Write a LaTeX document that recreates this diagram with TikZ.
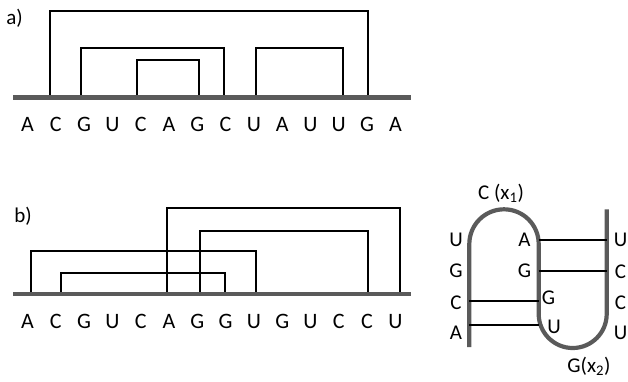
\documentclass[tikz,border=0pt]{standalone}
\usepackage{fontspec}
\setmainfont{Carlito}
\begin{document}
\begin{tikzpicture}[x=1pt,y=-1pt,
  base/.style={line width=4.2pt,draw=strand},
  pairarc/.style={line width=2pt,draw=black},
  seq/.style={font=\fontsize{22}{24}\selectfont,inner sep=0pt},
  lab/.style={font=\fontsize{21}{23}\selectfont,inner sep=0pt},
  rl/.style={font=\fontsize{21}{23}\selectfont,inner sep=0pt},
  strandline/.style={line width=4.2pt,draw=strand},
  bond/.style={line width=1.8pt,draw=black}]
\definecolor{strand}{HTML}{5A5A5A}
\useasboundingbox (0,0) rectangle (628,381);
% ---------- panel a ----------
\node[lab] (la) at (14.5,18) {a)};
\coordinate (aL) at (13,97.5);
\coordinate (aR) at (411,97.5);
\foreach \x/\n in {50/1,81/2,137/3,199/4,224/5,256/6,343/7,368/8}
  \coordinate (af\n) at (\x,97.5);
\draw[pairarc] (af1) -- ++(0,-86.5) -| (af8);
\draw[pairarc] (af2) -- ++(0,-49.5) -| (af5);
\draw[pairarc] (af3) -- ++(0,-37.5) -| (af4);
\draw[pairarc] (af6) -- ++(0,-49.5) -| (af7);
\draw[base] (aL) -- (aR);
\foreach \c [count=\i] in {A,C,G,U,C,A,G,C,U,A,U,U,G,A}
  \node[seq] (sa\i) at ({27.5+(\i-1)*28.3},124.8) {\c};
% ---------- panel b ----------
\node[lab] (lb) at (23,216) {b)};
\coordinate (bL) at (13,294);
\coordinate (bR) at (411,294);
\foreach \x/\n in {31/1,61/2,167/3,200/4,225/5,256/6,368/7,400/8}
  \coordinate (bf\n) at (\x,294);
\draw[pairarc] (bf3) -- ++(0,-86.5) -| (bf8);
\draw[pairarc] (bf4) -- ++(0,-63) -| (bf7);
\draw[pairarc] (bf1) -- ++(0,-43) -| (bf6);
\draw[pairarc] (bf2) -- ++(0,-21.5) -| (bf5);
\draw[base] (bL) -- (bR);
\foreach \c [count=\i] in {A,C,G,U,C,A,G,G,U,G,U,C,C,U}
  \node[seq] (sb\i) at ({27.5+(\i-1)*28.3},321.5) {\c};
% ---------- panel c ----------
\coordinate (s1) at (469.3,347);
\coordinate (s2) at (469.3,244);
\coordinate (s3) at (538.7,314);
\coordinate (s4) at (606.7,209.3);
\draw[strandline,line join=round] (s1) -- (s2) arc[start angle=180,end angle=0,radius=34.7pt]
  -- (s3) arc[start angle=180,end angle=360,radius=34pt] -- (s4);
\coordinate (p1l) at (538.7,240);   \coordinate (p1r) at (606.7,240);
\coordinate (p2l) at (538.7,270.7); \coordinate (p2r) at (606.7,270.7);
\coordinate (p3l) at (469.3,300.7); \coordinate (p3r) at (538.7,300.7);
\coordinate (p4l) at (469.3,325);   \coordinate (p4r) at (538.7,325);
\draw[bond] (p1l) -- (p1r);
\draw[bond] (p2l) -- (p2r);
\draw[bond] (p3l) -- (p3r);
\draw[bond] (p4l) -- (p4r);
\node[rl] (x1) at (501,193) {C (x\textsubscript{1})};
\node[rl] (x2) at (589,366) {G(x\textsubscript{2})};
\node[rl] (l1) at (456,239.5) {U};
\node[rl] (l2) at (456,271) {G};
\node[rl] (l3) at (456,302.5) {C};
\node[rl] (l4) at (456,332.5) {A};
\node[rl] (m1) at (524.5,240) {A};
\node[rl] (m2) at (524.5,271) {G};
\node[rl] (m3) at (548.5,298) {G};
\node[rl] (m4) at (554,326.5) {U};
\node[rl] (r1) at (620.5,240) {U};
\node[rl] (r2) at (620.5,271.5) {C};
\node[rl] (r3) at (620.5,302.5) {C};
\node[rl] (r4) at (620.5,332.5) {U};
\end{tikzpicture}
\end{document}
